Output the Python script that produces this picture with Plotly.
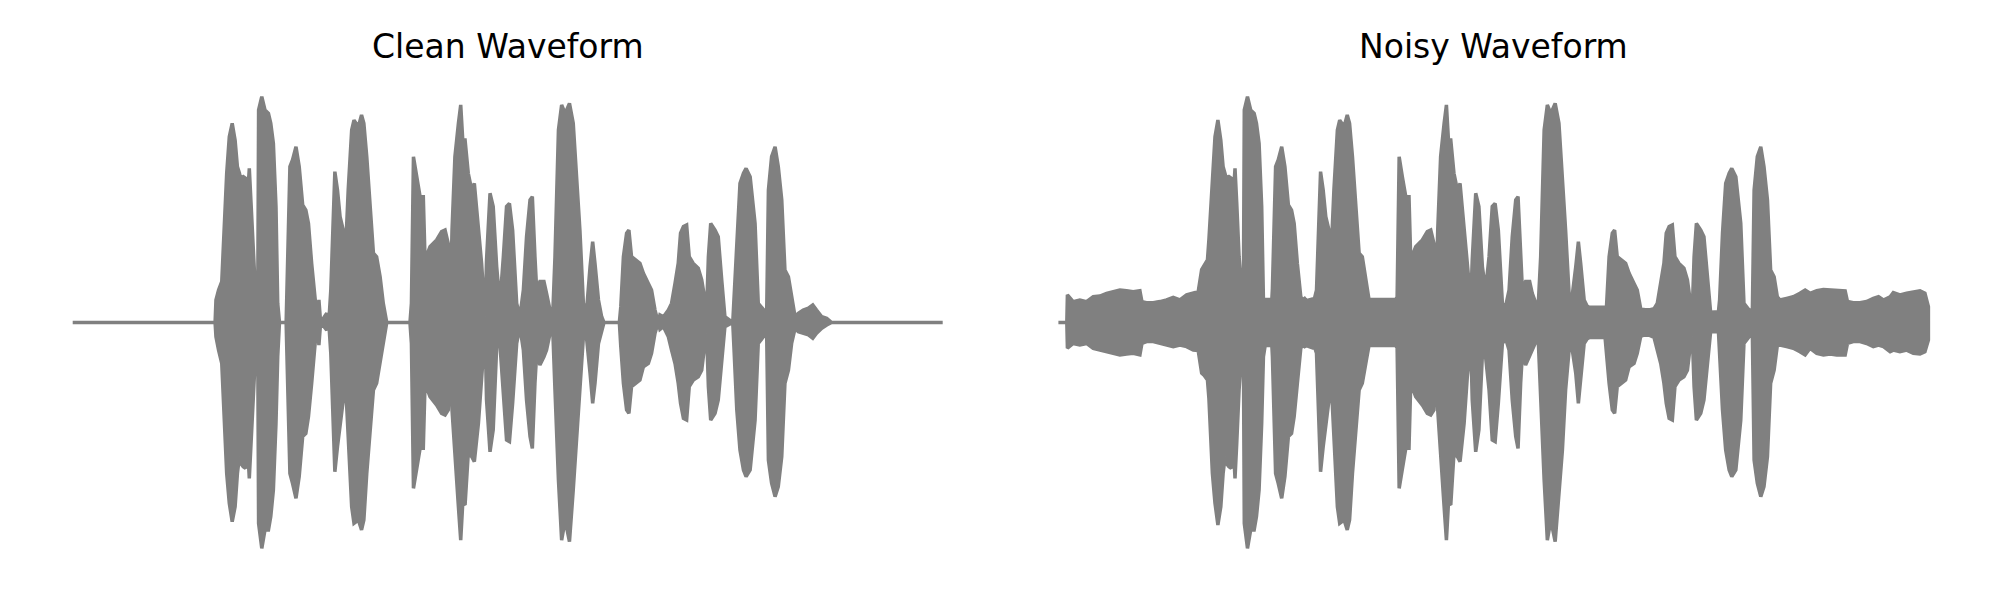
import plotly.graph_objects as go

# ---------------- Clean waveform envelope (time in s, amplitude) ----------------
clean_t = [
    0.0, 0.491, 0.494, 0.503, 0.514, 0.519, 0.531, 0.540, 0.550, 0.560,
    0.568, 0.575, 0.579, 0.588, 0.596, 0.602, 0.609, 0.615, 0.623, 0.632,
    0.638, 0.641, 0.652, 0.663, 0.675, 0.683, 0.692, 0.701, 0.707, 0.713,
    0.736, 0.738, 0.749, 0.758, 0.770, 0.781, 0.793, 0.804, 0.813, 0.824,
    0.836, 0.844, 0.849, 0.855, 0.876, 0.883, 0.890, 0.899, 0.904, 0.913,
    0.922, 0.933, 0.942, 0.950, 0.962, 0.970, 0.985, 0.996, 1.004, 1.014,
    1.025, 1.037, 1.048, 1.060, 1.071, 1.083, 1.163, 1.168, 1.175, 1.186,
    1.198, 1.209, 1.215, 1.232, 1.255, 1.272, 1.284, 1.295, 1.303, 1.308,
    1.318, 1.330, 1.338, 1.345, 1.353, 1.364, 1.376, 1.385, 1.399, 1.410,
    1.422, 1.427, 1.439, 1.450, 1.462, 1.473, 1.485, 1.496, 1.506, 1.517,
    1.531, 1.542, 1.554, 1.565, 1.577, 1.585, 1.594, 1.600, 1.611, 1.625,
    1.634, 1.646, 1.655, 1.663, 1.675, 1.686, 1.698, 1.713, 1.726, 1.738,
    1.749, 1.761, 1.772, 1.784, 1.793, 1.801, 1.813, 1.824, 1.832, 1.885,
    1.890, 1.899, 1.910, 1.918, 1.927, 1.956, 1.968, 1.985, 1.996, 2.008,
    2.019, 2.025, 2.037, 2.054, 2.065, 2.077, 2.088, 2.096, 2.106, 2.117,
    2.126, 2.140, 2.157, 2.169, 2.180, 2.186, 2.192, 2.200, 2.215, 2.226,
    2.238, 2.249, 2.276, 2.280, 2.290, 2.301, 2.313, 2.322, 2.336, 2.353,
    2.364, 2.382, 2.393, 2.399, 2.410, 2.422, 2.433, 2.445, 2.456, 2.468,
    2.479, 2.491, 2.502, 2.519, 2.537, 2.552, 2.565, 2.583, 2.600, 2.617, 3.0,
]
clean_upper = [
    0, 0, 0.098, 0.141, 0.178, 0.33, 0.649, 0.808, 0.866, 0.793,
    0.677, 0.649, 0.627, 0.634, 0.627, 0.533, 0.67, 0.518, 0.286, 0.083,
    0.054, 0.924, 0.982, 0.924, 0.909, 0.866, 0.779, 0.504, 0.083, 0,
    0, 0.112, 0.678, 0.707, 0.764, 0.678, 0.511, 0.489, 0.431, 0.257,
    0.083, 0, 0.098, 0, 0.04, 0, 0.141, 0.431, 0.656, 0.576,
    0.46, 0.402, 0.344, 0.576, 0.837, 0.88, 0.851, 0.902, 0.866, 0.721,
    0.504, 0.301, 0.286, 0.199, 0.083, 0, 0, 0.083, 0.721, 0.634,
    0.547, 0.547, 0.272, 0.33, 0.359, 0.395, 0.402, 0.344, 0.112, 0.402,
    0.721, 0.866, 0.946, 0.793, 0.793, 0.649, 0.576, 0.605, 0.417, 0.257,
    0.025, 0.272, 0.562, 0.504, 0.243, 0.083, 0.286, 0.504, 0.518, 0.402,
    0.083, 0.025, 0.141, 0.373, 0.533, 0.547, 0.286, 0.141, 0.178, 0.178,
    0.127, 0.054, 0.025, 0.286, 0.837, 0.946, 0.909, 0.953, 0.866, 0.649,
    0.402, 0.083, 0.054, 0.243, 0.351, 0.257, 0.098, 0.025, 0, 0,
    0.069, 0.286, 0.388, 0.402, 0.286, 0.257, 0.214, 0.17, 0.141, 0.054,
    0, 0.033, 0.025, 0.054, 0.083, 0.17, 0.257, 0.388, 0.417, 0.424,
    0.286, 0.257, 0.236, 0.185, 0.083, 0.054, 0.286, 0.431, 0.402, 0.373,
    0.185, 0.025, 0, 0.098, 0.388, 0.605, 0.649, 0.67, 0.634, 0.431,
    0.083, 0.054, 0.04, 0.576, 0.721, 0.764, 0.678, 0.533, 0.228, 0.199,
    0.112, 0.025, 0.04, 0.054, 0.062, 0.076, 0.054, 0.025, 0.018, 0, 0,
]
clean_lower = [
    0, 0, -0.062, -0.12, -0.178, -0.293, -0.656, -0.786, -0.866, -0.801,
    -0.656, -0.583, -0.612, -0.627, -0.634, -0.511, -0.678, -0.525, -0.293, -0.091,
    -0.062, -0.873, -0.982, -0.902, -0.902, -0.844, -0.728, -0.438, -0.149, 0,
    0, -0.105, -0.656, -0.699, -0.764, -0.67, -0.496, -0.482, -0.409, -0.264,
    -0.091, 0, -0.098, 0, -0.033, 0, -0.134, -0.438, -0.649, -0.54,
    -0.438, -0.337, -0.293, -0.511, -0.801, -0.873, -0.859, -0.902, -0.859, -0.656,
    -0.467, -0.293, -0.264, -0.178, -0.091, 0, 0, -0.091, -0.721, -0.641,
    -0.547, -0.547, -0.264, -0.322, -0.359, -0.395, -0.402, -0.38, -0.12, -0.38,
    -0.583, -0.801, -0.946, -0.786, -0.793, -0.569, -0.583, -0.605, -0.438, -0.236,
    -0.033, -0.337, -0.562, -0.467, -0.105, -0.091, -0.293, -0.511, -0.518, -0.351,
    -0.091, -0.018, -0.12, -0.337, -0.496, -0.547, -0.264, -0.134, -0.185, -0.149,
    -0.12, -0.047, -0.018, -0.293, -0.685, -0.946, -0.859, -0.953, -0.728, -0.554,
    -0.293, -0.062, -0.069, -0.221, -0.351, -0.264, -0.091, -0.033, 0, 0,
    -0.105, -0.264, -0.38, -0.395, -0.279, -0.25, -0.192, -0.178, -0.134, -0.047,
    0, -0.03, -0.018, -0.062, -0.12, -0.178, -0.264, -0.351, -0.417, -0.424,
    -0.279, -0.25, -0.236, -0.207, -0.091, -0.047, -0.279, -0.424, -0.395, -0.337,
    -0.192, -0.018, 0, -0.105, -0.38, -0.554, -0.641, -0.67, -0.641, -0.424,
    -0.091, -0.062, -0.047, -0.598, -0.699, -0.757, -0.714, -0.583, -0.264, -0.207,
    -0.091, -0.025, -0.04, -0.047, -0.054, -0.069, -0.047, -0.025, -0.011, 0, 0,
]

# ---------------- Noisy waveform envelope ----------------
noisy_t = [
    0.0, 0.029, 0.031, 0.034, 0.051, 0.074, 0.097, 0.120, 0.143, 0.166,
    0.189, 0.212, 0.235, 0.258, 0.281, 0.288, 0.304, 0.327, 0.350, 0.373,
    0.396, 0.419, 0.442, 0.465, 0.482,
    0.494, 0.503, 0.514, 0.519, 0.531, 0.540, 0.550, 0.560,
    0.568, 0.575, 0.579, 0.588, 0.596, 0.602, 0.609, 0.615, 0.623, 0.632,
    0.638, 0.641, 0.652, 0.663, 0.675, 0.683, 0.692, 0.701, 0.707, 0.713,
    0.736, 0.738, 0.749, 0.758, 0.770, 0.781, 0.793, 0.804, 0.813, 0.824,
    0.836, 0.844, 0.849, 0.855, 0.876, 0.883, 0.890, 0.899, 0.904, 0.913,
    0.922, 0.933, 0.942, 0.950, 0.962, 0.970, 0.985, 0.996, 1.004, 1.014,
    1.025, 1.037, 1.048, 1.060, 1.071, 1.083, 1.163, 1.168, 1.175, 1.186,
    1.198, 1.209, 1.215, 1.232, 1.255, 1.272, 1.284, 1.295, 1.303, 1.308,
    1.318, 1.330, 1.338, 1.345, 1.353, 1.364, 1.376, 1.385, 1.399, 1.410,
    1.422, 1.427, 1.439, 1.450, 1.462, 1.473, 1.485, 1.496, 1.506, 1.517,
    1.531, 1.542, 1.554, 1.565, 1.577, 1.585, 1.594, 1.600, 1.611, 1.625,
    1.634, 1.646, 1.655, 1.663, 1.675, 1.686, 1.698, 1.713, 1.726, 1.738,
    1.749, 1.761, 1.772, 1.784, 1.793, 1.801, 1.813, 1.824, 1.832, 1.885,
    1.890, 1.899, 1.910, 1.918, 1.927, 1.956, 1.968, 1.985, 1.996, 2.008,
    2.019, 2.025, 2.037, 2.054, 2.065, 2.077, 2.088, 2.096, 2.106, 2.117,
    2.126, 2.140, 2.157, 2.169, 2.180, 2.186, 2.192, 2.200, 2.215, 2.226,
    2.238, 2.249, 2.276, 2.280, 2.290, 2.301, 2.313, 2.322, 2.336, 2.353,
    2.364, 2.382, 2.393, 2.399, 2.410, 2.422, 2.433, 2.445, 2.456, 2.468,
    2.479, 2.488, 2.511, 2.534, 2.557, 2.575, 2.592, 2.615, 2.638, 2.661,
    2.684, 2.713, 2.721, 2.741, 2.764, 2.787, 2.810, 2.828, 2.845, 2.868,
    2.879, 2.902, 2.925, 2.948, 2.971, 2.988, 3.0,
]
noisy_upper = [
    0, 0, 0.12, 0.115, 0.091, 0.098, 0.091, 0.112, 0.115, 0.127,
    0.134, 0.141, 0.138, 0.134, 0.138, 0.091, 0.086, 0.086, 0.091, 0.098,
    0.109, 0.098, 0.12, 0.127, 0.134,
    0.23, 0.25, 0.272, 0.36, 0.649, 0.808, 0.88, 0.793,
    0.677, 0.649, 0.627, 0.634, 0.627, 0.533, 0.67, 0.518, 0.286, 0.141,
    0.141, 0.924, 0.982, 0.924, 0.909, 0.866, 0.779, 0.504, 0.1, 0.1,
    0.1, 0.15, 0.678, 0.707, 0.764, 0.678, 0.511, 0.489, 0.431, 0.257,
    0.11, 0.1, 0.105, 0.095, 0.1, 0.105, 0.141, 0.431, 0.656, 0.576,
    0.46, 0.402, 0.344, 0.576, 0.837, 0.88, 0.851, 0.902, 0.866, 0.721,
    0.504, 0.301, 0.286, 0.199, 0.1, 0.1, 0.1, 0.11, 0.721, 0.634,
    0.547, 0.547, 0.272, 0.33, 0.359, 0.395, 0.402, 0.344, 0.15, 0.402,
    0.721, 0.866, 0.946, 0.793, 0.793, 0.649, 0.576, 0.605, 0.417, 0.257,
    0.09, 0.272, 0.562, 0.504, 0.243, 0.141, 0.286, 0.504, 0.518, 0.402,
    0.083, 0.07, 0.141, 0.373, 0.533, 0.547, 0.286, 0.141, 0.178, 0.178,
    0.127, 0.085, 0.085, 0.286, 0.837, 0.946, 0.909, 0.953, 0.866, 0.649,
    0.402, 0.124, 0.12, 0.243, 0.351, 0.257, 0.098, 0.07, 0.066, 0.066,
    0.069, 0.286, 0.388, 0.402, 0.286, 0.257, 0.214, 0.17, 0.141, 0.06,
    0.055, 0.055, 0.055, 0.06, 0.083, 0.17, 0.257, 0.388, 0.417, 0.424,
    0.286, 0.257, 0.236, 0.185, 0.083, 0.06, 0.286, 0.431, 0.402, 0.373,
    0.185, 0.045, 0.047, 0.098, 0.388, 0.605, 0.649, 0.67, 0.634, 0.431,
    0.083, 0.054, 0.054, 0.576, 0.721, 0.764, 0.678, 0.533, 0.228, 0.199,
    0.112, 0.098, 0.105, 0.112, 0.127, 0.141, 0.127, 0.138, 0.144, 0.141,
    0.138, 0.137, 0.091, 0.086, 0.086, 0.091, 0.105, 0.112, 0.098, 0.112,
    0.13, 0.12, 0.127, 0.134, 0.138, 0.127, 0.069,
]
noisy_lower = [
    0, 0, -0.112, -0.112, -0.091, -0.098, -0.091, -0.112, -0.12, -0.127,
    -0.134, -0.141, -0.137, -0.134, -0.141, -0.091, -0.083, -0.083, -0.091, -0.098,
    -0.105, -0.098, -0.105, -0.12, -0.122,
    -0.22, -0.23, -0.25, -0.33, -0.656, -0.786, -0.88, -0.801,
    -0.656, -0.583, -0.612, -0.627, -0.634, -0.511, -0.678, -0.525, -0.293, -0.134,
    -0.134, -0.873, -0.982, -0.902, -0.902, -0.844, -0.728, -0.438, -0.149, -0.1,
    -0.1, -0.15, -0.656, -0.699, -0.764, -0.67, -0.496, -0.482, -0.409, -0.264,
    -0.11, -0.1, -0.105, -0.1, -0.11, -0.105, -0.134, -0.438, -0.649, -0.54,
    -0.438, -0.337, -0.293, -0.511, -0.801, -0.873, -0.859, -0.902, -0.859, -0.656,
    -0.467, -0.293, -0.264, -0.178, -0.1, -0.1, -0.1, -0.11, -0.721, -0.641,
    -0.547, -0.547, -0.264, -0.322, -0.359, -0.395, -0.402, -0.38, -0.15, -0.38,
    -0.583, -0.801, -0.946, -0.786, -0.793, -0.569, -0.583, -0.605, -0.438, -0.236,
    -0.09, -0.337, -0.562, -0.467, -0.14, -0.149, -0.293, -0.511, -0.518, -0.351,
    -0.091, -0.07, -0.12, -0.337, -0.496, -0.547, -0.264, -0.134, -0.185, -0.149,
    -0.12, -0.085, -0.085, -0.293, -0.685, -0.946, -0.859, -0.953, -0.728, -0.554,
    -0.293, -0.12, -0.12, -0.221, -0.351, -0.264, -0.091, -0.07, -0.065, -0.065,
    -0.105, -0.264, -0.38, -0.395, -0.279, -0.25, -0.192, -0.178, -0.134, -0.06,
    -0.055, -0.055, -0.055, -0.065, -0.12, -0.178, -0.264, -0.351, -0.417, -0.424,
    -0.279, -0.25, -0.236, -0.207, -0.091, -0.06, -0.279, -0.424, -0.395, -0.337,
    -0.192, -0.04, -0.04, -0.105, -0.38, -0.554, -0.641, -0.67, -0.641, -0.424,
    -0.091, -0.062, -0.054, -0.598, -0.699, -0.757, -0.714, -0.583, -0.264, -0.207,
    -0.1, -0.098, -0.105, -0.112, -0.127, -0.141, -0.112, -0.134, -0.141, -0.137,
    -0.141, -0.141, -0.091, -0.083, -0.083, -0.091, -0.105, -0.098, -0.105, -0.127,
    -0.12, -0.127, -0.12, -0.134, -0.137, -0.127, -0.076,
]

titles = ["Clean Waveform", "Noisy Waveform"]
WAVE_COLOR = "#808080"


def envelope_trace(t, upper, lower, xaxis, yaxis):
    xs = list(t) + list(reversed(t))
    ys = list(upper) + list(reversed(lower))
    return go.Scatter(
        x=xs, y=ys, mode="lines", fill="toself",
        fillcolor=WAVE_COLOR,
        line=dict(color=WAVE_COLOR, width=3.5, shape="linear"),
        hoverinfo="skip", showlegend=False,
        xaxis=xaxis, yaxis=yaxis,
    )


fig = go.Figure()
fig.add_trace(envelope_trace(clean_t, clean_upper, clean_lower, "x", "y"))
fig.add_trace(envelope_trace(noisy_t, noisy_upper, noisy_lower, "x2", "y2"))

yrange = [-1.2065, 1.4022]
fig.update_layout(
    width=2000, height=600,
    margin=dict(l=0, r=0, t=0, b=0),
    paper_bgcolor="white", plot_bgcolor="white",
    xaxis=dict(domain=[0.0, 0.5], range=[-0.2507, 3.1976], visible=False),
    xaxis2=dict(domain=[0.5, 1.0], range=[-0.2014, 3.2469], visible=False),
    yaxis=dict(domain=[0, 1], range=yrange, visible=False),
    yaxis2=dict(domain=[0, 1], range=yrange, visible=False, anchor="x2"),
    font=dict(family="DejaVu Sans", color="black"),
)
for i, title in enumerate(titles):
    fig.add_annotation(
        text=title, x=1.5, xref="x" if i == 0 else "x2",
        y=1 - 46 / 600, yref="paper", yanchor="middle",
        showarrow=False, font=dict(family="DejaVu Sans", size=33, color="black"),
    )

fig.write_html(
    "out.html",
    config={"displayModeBar": False},
    post_script="document.body.style.margin='0';document.body.style.overflow='hidden';",
)
